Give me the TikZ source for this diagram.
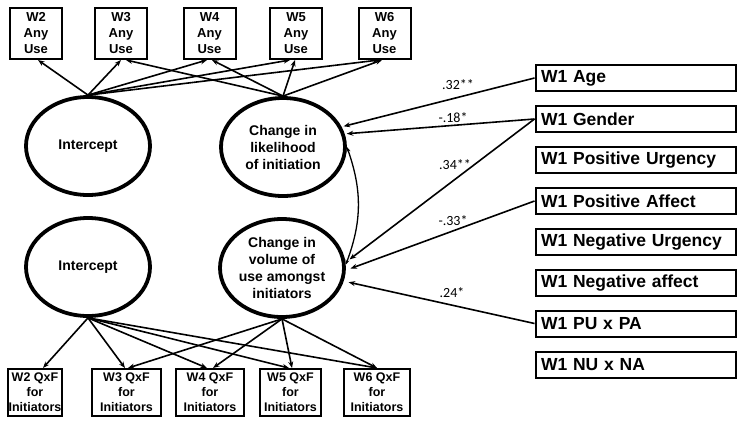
\documentclass[tikz,border=0pt]{standalone}
\usepackage{fontspec}
\setmainfont{Liberation Sans}
\newfontfamily\coeffont{Carlito}
\usetikzlibrary{positioning,shapes.geometric,arrows.meta}
\tikzset{latent/.style = {ellipse,draw,line width=3.8pt,minimum width=124pt,minimum height=98pt,inner sep=0pt,align=center,font=\fontsize{14}{17}\selectfont\bfseries},
         anyuse/.style = {rectangle,draw,line width=2pt,minimum width=52pt,minimum height=51pt,inner sep=1pt,align=center,font=\fontsize{13}{16}\selectfont\bfseries},
         qxf/.style = {rectangle,draw,line width=2pt,minimum height=47pt,inner sep=1pt,align=center,font=\fontsize{12.5}{15}\selectfont\bfseries},
         cov/.style = {rectangle,draw,line width=2pt,text width=189pt,inner xsep=5.5pt,inner ysep=0pt,minimum height=26pt,align=left,font=\fontsize{17.5}{20}\selectfont\bfseries},
         arr/.style = {-{Stealth[length=6.5pt,width=5pt]},line width=1.6pt},
         coef/.style = {font=\coeffont\fontsize{14}{16}\selectfont}}

\begin{document}
\begin{tikzpicture}[x=1pt,y=-1pt]
    \useasboundingbox (0,0) rectangle (744,429);
    % growth factors
    \node[latent] (int1)   at ( 88,146) {Intercept};
    \node[latent] (slope1) at (283,147) {Change in\\likelihood\\of initiation};
    \node[latent] (int2)   at ( 88,267) {Intercept};
    \node[latent] (slope2) at (282,268) {Change in\\volume of\\use amongst\\initiators};
    % any use indicators
    \node[anyuse] (any2) at ( 36,33.5) {W2\\Any\\Use};
    \node[anyuse] (any3) at (121,33.5) {W3\\Any\\Use};
    \node[anyuse] (any4) at (209.5,33.5) {W4\\Any\\Use};
    \node[anyuse] (any5) at (296,33.5) {W5\\Any\\Use};
    \node[anyuse] (any6) at (384.5,33.5) {W6\\Any\\Use};
    % QxF indicators
    \node[qxf,minimum width=52pt] (qxf2) at ( 35,392.5) {W2 QxF\\for\\Initiators};
    \node[qxf,minimum width=69pt] (qxf3) at (126.5,392.5) {W3 QxF\\for\\Initiators};
    \node[qxf,minimum width=68pt] (qxf4) at (210,392.5) {W4 QxF\\for\\Initiators};
    \node[qxf,minimum width=61pt] (qxf5) at (290.5,392.5) {W5 QxF\\for\\Initiators};
    \node[qxf,minimum width=66pt] (qxf6) at (377,392.5) {W6 QxF\\for\\Initiators};
    % covariates
    \node[cov] (age)    at (635.5, 78)   {W1 Age};
    \node[cov] (gender) at (635.5,119)   {W1 Gender};
    \node[cov] (pu)     at (635.5,160)   {W1 Positive Urgency};
    \node[cov] (pa)     at (635.5,201)   {W1 Positive Affect};
    \node[cov] (nu)     at (635.5,242)   {W1 Negative Urgency};
    \node[cov] (na)     at (635.5,283)   {W1 Negative affect};
    \node[cov] (pupa)   at (635.5,323.5) {W1 PU x PA};
    \node[cov] (nuna)   at (635.5,364.5) {W1 NU x NA};

    \draw[arr] (int1.north) -- ([xshift=2pt]any2.south);
    \draw[arr] (int1.north) -- (any3.south);
    \draw[arr] (int1.north) -- ([xshift=-2.5pt]any4.south);
    \draw[arr] (int1.north) -- ([xshift=-6pt]any5.south);
    \draw[arr] (int1.north) -- ([xshift=-5.5pt]any6.south);
    \draw[arr] (slope1.north) -- ([xshift=5pt]any3.south);
    \draw[arr] (slope1.north) -- ([xshift=2.5pt]any4.south);
    \draw[arr] (slope1.north) -- ([xshift=-1pt]any5.south);
    \draw[arr] (slope1.north) -- ([xshift=-2.5pt]any6.south);

    \draw[arr] (int2.south) -- ([xshift=8pt]qxf2.north);
    \draw[arr] (int2.south) -- ([xshift=-1.5pt]qxf3.north);
    \draw[arr] (int2.south) -- ([xshift=-3pt]qxf4.north);
    \draw[arr] (int2.south) -- ([xshift=-1.5pt]qxf5.north);
    \draw[arr] (int2.south) -- (qxf6.north);
    \draw[arr] (slope2.south) -- ([xshift=1.5pt]qxf3.north);
    \draw[arr] (slope2.south) -- ([xshift=3pt]qxf4.north);
    \draw[arr] (slope2.south) -- ([xshift=1.5pt]qxf5.north);
    \draw[arr] (slope2.south) -- (qxf6.north);

    \draw[arr,shorten >=2pt] (age.west) -- (slope1.19);
    \draw[arr,shorten >=2pt] (gender.west) -- (slope1.12);
    \draw[arr,shorten >=5pt] (gender.west) -- (slope2.5);
    \draw[arr,shorten >=5pt] (pa.west) -- (slope2.-2);
    \draw[arr,shorten >=5pt] (pupa.west) -- (slope2.-12);
    \draw[{Stealth[length=5pt,width=4pt]}-{Stealth[length=5pt,width=4pt]},line width=1.3pt]
        (slope1.east) to[bend left=20] (slope2.3);

    \node[coef] (bage)  at (458, 85) {.32**};
    \node[coef] (bgen1) at (453,118) {-.18*};
    \node[coef] (bgen2) at (455,165) {.34**};
    \node[coef] (bpa)   at (453,221) {-.33*};
    \node[coef] (bpupa) at (452,293) {.24*};
\end{tikzpicture}
\end{document}
